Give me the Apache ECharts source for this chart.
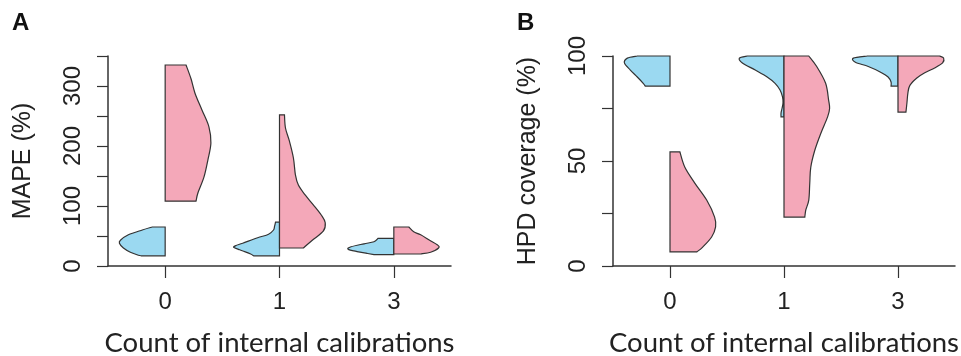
<!DOCTYPE html>
<html>
<head>
<meta charset="utf-8">
<script src="https://cdn.jsdelivr.net/npm/echarts@6/dist/echarts.min.js"></script>
<style>
html,body{margin:0;padding:0;background:#fff;}
#c{width:961px;height:356px;}
</style>
</head>
<body>
<div id="c"></div>
<script>
// ---------- data ----------
const categories = ['0', '1', '3'];
const xTitle = 'Count of internal calibrations';
const titleA = 'MAPE (%)';
const titleB = 'HPD coverage (%)';
const ticksA = [0, 100, 200, 300];
const ticksB = [0, 50, 100];

// Panel A (MAPE %): violin profiles, values (bottom -> top) and relative half-widths (density, max ~46)
const mapeNoY   = [17, 18, 23, 30, 38, 43, 52, 60, 65];
const mapeNoW   = [24, 27, 35, 42, 46, 45, 37, 23, 13];
const mapeYesY0 = [108, 122, 148, 177, 205, 232, 260, 288, 312, 335];
const mapeYesW0 = [31, 33, 39, 43, 46, 44, 37, 30, 26, 21];
const mapeNoY1  = [17, 20, 24, 27, 31, 34, 38, 47, 53, 60, 66, 73];
const mapeNoW1  = [26, 29, 35, 40, 46, 44, 37, 22, 11, 6, 5, 4];
const mapeYesY1 = [30, 43, 58, 72, 85, 102, 118, 135, 152, 180, 208, 230, 252];
const mapeYesW1 = [24, 33, 44, 46, 42, 34, 26, 19, 16, 14, 10, 6, 5];
const mapeNoY3  = [19, 21, 24, 28, 32, 37, 40.5, 46];
const mapeNoW3  = [20, 27, 37, 46, 43, 30, 20, 16];
const mapeYesY3 = [20, 23, 30, 35, 43, 52, 57, 65];
const mapeYesW3 = [27, 37, 45, 44, 36, 27, 20, 15];

// Panel B (HPD coverage %)
const hpdNoY0  = [85.7, 87, 90, 93.3, 96.7, 99, 100];
const hpdNoW0  = [25, 27, 33, 40, 46, 43, 33];
const hpdYesY0 = [6.7, 9, 13.8, 18.6, 23.3, 31.4, 39.5, 47, 54.3];
const hpdYesW0 = [27, 33, 42, 46, 45, 37, 25, 15, 10];
const hpdNoY1  = [71, 72.8, 75, 77.6, 80.5, 83.8, 87, 90, 93.3, 96.7, 99, 100];
const hpdNoW1  = [3, 3, 2, 1, 1.5, 4, 9, 17, 29, 42, 45, 37];
const hpdYesY1 = [23.3, 26.7, 31.4, 39.5, 47, 55, 63, 71, 75, 79, 87, 95, 100];
const hpdYesW1 = [21, 22, 25, 26, 27, 31, 37, 44, 46, 45, 42, 33, 25];
const hpdNoY3  = [85.7, 87.6, 90, 92.4, 95, 97, 99, 100];
const hpdNoW3  = [7, 7, 10, 18, 30, 43, 45, 31];
const hpdYesY3 = [73.3, 77.6, 82.4, 86, 89.5, 92, 94.3, 96.7, 99, 100];
const hpdYesW3 = [8, 9, 10, 12, 19, 27, 37, 45, 46, 42];

// ---------- build ----------
const BLUE = '#9bd9f1';
const PINK = '#f4a8b9';
const STROKE = '#333333';
const AXIS = '#333333';
const MAXW = 46;

const profA = {
  blue: [[mapeNoY, mapeNoW], [mapeNoY1, mapeNoW1], [mapeNoY3, mapeNoW3]],
  pink: [[mapeYesY0, mapeYesW0], [mapeYesY1, mapeYesW1], [mapeYesY3, mapeYesW3]]
};
const profB = {
  blue: [[hpdNoY0, hpdNoW0], [hpdNoY1, hpdNoW1], [hpdNoY3, hpdNoW3]],
  pink: [[hpdYesY0, hpdYesW0], [hpdYesY1, hpdYesW1], [hpdYesY3, hpdYesW3]]
};

function makeRender(profiles, side, fill) {
  return function (params, api) {
    const idx = api.value(0);
    const [Y, W] = profiles[idx];
    const cx = api.coord([idx, 0])[0];
    const band = api.size([1, 0])[0];
    const k = 0.4 * band / MAXW;
    const pts = Y.map((v, i) => [cx + side * W[i] * k, api.coord([idx, v])[1]]);
    const yb = pts[0][1], yt = pts[pts.length - 1][1];
    let d = 'M' + cx + ',' + yb + 'L' + pts[0][0] + ',' + pts[0][1];
    for (let i = 0; i < pts.length - 1; i++) {
      const p0 = pts[i - 1] || pts[i], p1 = pts[i], p2 = pts[i + 1], p3 = pts[i + 2] || pts[i + 1];
      const c1 = [p1[0] + (p2[0] - p0[0]) / 6, p1[1] + (p2[1] - p0[1]) / 6];
      const c2 = [p2[0] - (p3[0] - p1[0]) / 6, p2[1] - (p3[1] - p1[1]) / 6];
      d += 'C' + c1[0] + ',' + c1[1] + ' ' + c2[0] + ',' + c2[1] + ' ' + p2[0] + ',' + p2[1];
    }
    d += 'L' + cx + ',' + yt + 'Z';
    return {
      type: 'path',
      shape: { pathData: d },
      style: { fill: fill, stroke: STROKE, lineWidth: 1.2 }
    };
  };
}

function seriesFor(profiles, axisIndex) {
  const out = [];
  [['blue', -1, BLUE], ['pink', 1, PINK]].forEach(([key, side, fill]) => {
    out.push({
      type: 'custom',
      xAxisIndex: axisIndex,
      yAxisIndex: axisIndex,
      renderItem: makeRender(profiles[key], side, fill),
      encode: { x: 0, y: [1, 2] },
      data: profiles[key].map((p, i) => [i, p[0][0], p[0][p[0].length - 1]]),
      silent: true,
      clip: false,
      z: key === 'blue' ? 2 : 3
    });
  });
  return out;
}

const tickFont = { fontFamily: 'Liberation Sans', fontSize: 24, color: '#222' };
const titleFont = { fontFamily: 'Lato', fontSize: 27.5, color: '#222' };

function xAxisFor(gridIndex) {
  return {
    type: 'category', gridIndex: gridIndex, data: categories,
    boundaryGap: true,
    axisLine: { show: true, lineStyle: { color: AXIS, width: 1.5 } },
    axisTick: { show: true, alignWithLabel: true, length: 12, lineStyle: { color: AXIS, width: 1.2 } },
    axisLabel: Object.assign({ margin: 24 }, tickFont),
    name: xTitle, nameLocation: 'middle', nameGap: 63,
    nameTextStyle: titleFont,
    splitLine: { show: false }
  };
}
function yAxisFor(gridIndex, max, interval, labels, name) {
  return {
    type: 'value', gridIndex: gridIndex, min: 0, max: max, interval: interval,
    axisLine: { show: true, lineStyle: { color: AXIS, width: 1.5 } },
    axisTick: { show: true, length: 11, lineStyle: { color: AXIS, width: 1.2 } },
    axisLabel: Object.assign({
      margin: 23, rotate: 90,
      formatter: v => (labels.indexOf(v) >= 0 ? String(v) : ''),
      showMaxLabel: true, showMinLabel: true
    }, tickFont),
    splitLine: { show: false },
    name: name, nameLocation: 'middle', nameGap: 72,
    nameTextStyle: { fontFamily: 'Liberation Sans', fontSize: 25, color: '#222' }
  };
}

const chart = echarts.init(document.getElementById('c'), null, { renderer: 'canvas' });
chart.setOption({
  animation: false,
  backgroundColor: '#fff',
  grid: [
    { left: 108, right: 510, top: 56, bottom: 90, containLabel: false, outerBoundsMode: 'none' },
    { left: 613, right: 6, top: 56, bottom: 90, containLabel: false, outerBoundsMode: 'none' }
  ],
  xAxis: [xAxisFor(0), xAxisFor(1)],
  yAxis: [yAxisFor(0, 350, 50, ticksA, titleA), yAxisFor(1, 100, 25, ticksB, titleB)],
  graphic: [
    { type: 'text', left: 12, top: 11, style: { text: 'A', fontFamily: 'Liberation Sans', fontWeight: 'bold', fontSize: 24, fill: '#111' } },
    { type: 'text', left: 517, top: 11, style: { text: 'B', fontFamily: 'Liberation Sans', fontWeight: 'bold', fontSize: 24, fill: '#111' } }
  ],
  series: seriesFor(profA, 0).concat(seriesFor(profB, 1))
});
</script>
</body>
</html>
